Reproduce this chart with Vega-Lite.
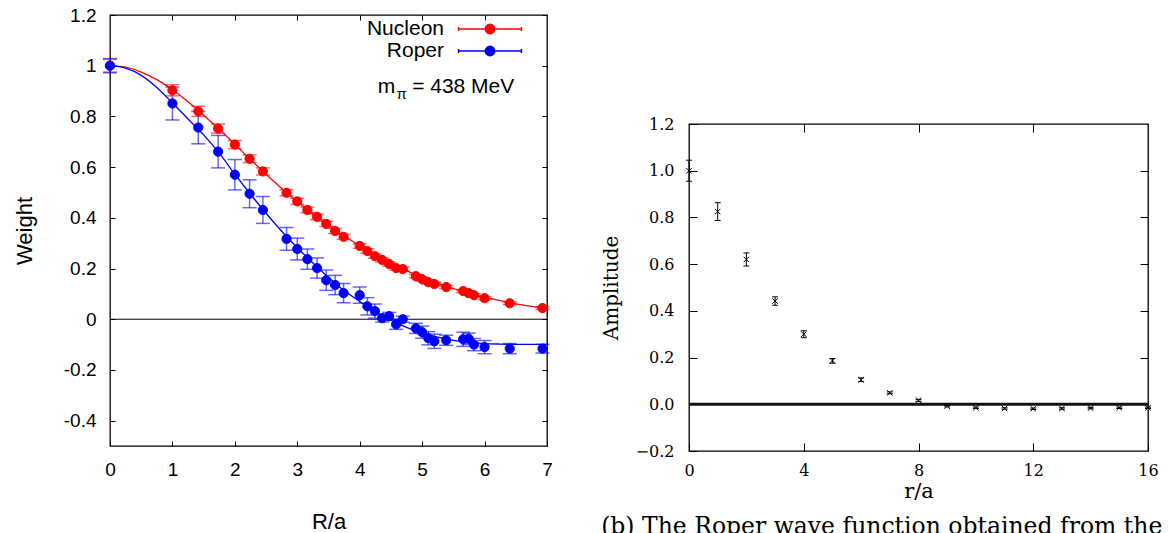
{
  "$schema": "https://vega.github.io/schema/vega-lite/v6.json",
  "background": "white",
  "padding": {"left": 12, "top": 5, "right": 0, "bottom": 0},
  "config": {
    "view": {"stroke": "black", "strokeWidth": 1.3},
    "axis": {"grid": false, "domain": false, "tickColor": "black", "tickWidth": 1, "labelColor": "black", "titleColor": "black", "titleFontWeight": "normal", "labelFlush": false, "labelOverlap": false}
  },
  "datasets": {
    "weights": [
      {"series": "Nucleon", "R": 0, "w": 1.0, "lo": 0.975, "hi": 1.025},
      {"series": "Nucleon", "R": 1, "w": 0.903, "lo": 0.881, "hi": 0.925},
      {"series": "Nucleon", "R": 1.414, "w": 0.82, "lo": 0.8, "hi": 0.84},
      {"series": "Nucleon", "R": 1.732, "w": 0.752, "lo": 0.734, "hi": 0.77},
      {"series": "Nucleon", "R": 2, "w": 0.689, "lo": 0.673, "hi": 0.705},
      {"series": "Nucleon", "R": 2.236, "w": 0.633, "lo": 0.618, "hi": 0.648},
      {"series": "Nucleon", "R": 2.449, "w": 0.583, "lo": 0.569, "hi": 0.597},
      {"series": "Nucleon", "R": 2.828, "w": 0.499, "lo": 0.487, "hi": 0.511},
      {"series": "Nucleon", "R": 3, "w": 0.465, "lo": 0.453, "hi": 0.477},
      {"series": "Nucleon", "R": 3.162, "w": 0.431, "lo": 0.42, "hi": 0.442},
      {"series": "Nucleon", "R": 3.317, "w": 0.404, "lo": 0.393, "hi": 0.415},
      {"series": "Nucleon", "R": 3.464, "w": 0.376, "lo": 0.366, "hi": 0.386},
      {"series": "Nucleon", "R": 3.606, "w": 0.348, "lo": 0.338, "hi": 0.358},
      {"series": "Nucleon", "R": 3.742, "w": 0.325, "lo": 0.315, "hi": 0.335},
      {"series": "Nucleon", "R": 4, "w": 0.289, "lo": 0.28, "hi": 0.298},
      {"series": "Nucleon", "R": 4.123, "w": 0.269, "lo": 0.26, "hi": 0.278},
      {"series": "Nucleon", "R": 4.243, "w": 0.249, "lo": 0.241, "hi": 0.257},
      {"series": "Nucleon", "R": 4.359, "w": 0.234, "lo": 0.226, "hi": 0.242},
      {"series": "Nucleon", "R": 4.472, "w": 0.218, "lo": 0.21, "hi": 0.226},
      {"series": "Nucleon", "R": 4.583, "w": 0.202, "lo": 0.194, "hi": 0.21},
      {"series": "Nucleon", "R": 4.69, "w": 0.198, "lo": 0.19, "hi": 0.206},
      {"series": "Nucleon", "R": 4.899, "w": 0.17, "lo": 0.163, "hi": 0.177},
      {"series": "Nucleon", "R": 5, "w": 0.158, "lo": 0.151, "hi": 0.165},
      {"series": "Nucleon", "R": 5.099, "w": 0.146, "lo": 0.139, "hi": 0.153},
      {"series": "Nucleon", "R": 5.196, "w": 0.139, "lo": 0.132, "hi": 0.146},
      {"series": "Nucleon", "R": 5.385, "w": 0.127, "lo": 0.121, "hi": 0.133},
      {"series": "Nucleon", "R": 5.657, "w": 0.111, "lo": 0.105, "hi": 0.117},
      {"series": "Nucleon", "R": 5.745, "w": 0.103, "lo": 0.097, "hi": 0.109},
      {"series": "Nucleon", "R": 5.831, "w": 0.095, "lo": 0.089, "hi": 0.101},
      {"series": "Nucleon", "R": 6, "w": 0.083, "lo": 0.077, "hi": 0.089},
      {"series": "Nucleon", "R": 6.403, "w": 0.063, "lo": 0.058, "hi": 0.068},
      {"series": "Nucleon", "R": 6.928, "w": 0.044, "lo": 0.039, "hi": 0.049},
      {"series": "Roper", "R": 0, "w": 1.0, "lo": 0.972, "hi": 1.028},
      {"series": "Roper", "R": 1, "w": 0.851, "lo": 0.786, "hi": 0.916},
      {"series": "Roper", "R": 1.414, "w": 0.756, "lo": 0.692, "hi": 0.82},
      {"series": "Roper", "R": 1.732, "w": 0.661, "lo": 0.597, "hi": 0.725},
      {"series": "Roper", "R": 2, "w": 0.57, "lo": 0.51, "hi": 0.63},
      {"series": "Roper", "R": 2.236, "w": 0.495, "lo": 0.44, "hi": 0.55},
      {"series": "Roper", "R": 2.449, "w": 0.431, "lo": 0.378, "hi": 0.484},
      {"series": "Roper", "R": 2.828, "w": 0.317, "lo": 0.272, "hi": 0.362},
      {"series": "Roper", "R": 3, "w": 0.277, "lo": 0.234, "hi": 0.32},
      {"series": "Roper", "R": 3.162, "w": 0.237, "lo": 0.197, "hi": 0.277},
      {"series": "Roper", "R": 3.317, "w": 0.202, "lo": 0.162, "hi": 0.242},
      {"series": "Roper", "R": 3.464, "w": 0.154, "lo": 0.114, "hi": 0.194},
      {"series": "Roper", "R": 3.606, "w": 0.135, "lo": 0.097, "hi": 0.173},
      {"series": "Roper", "R": 3.742, "w": 0.103, "lo": 0.065, "hi": 0.141},
      {"series": "Roper", "R": 4, "w": 0.095, "lo": 0.063, "hi": 0.127},
      {"series": "Roper", "R": 4.123, "w": 0.051, "lo": 0.017, "hi": 0.085},
      {"series": "Roper", "R": 4.243, "w": 0.032, "lo": 0.004, "hi": 0.06},
      {"series": "Roper", "R": 4.359, "w": 0.004, "lo": -0.011, "hi": 0.019},
      {"series": "Roper", "R": 4.472, "w": 0.012, "lo": -0.003, "hi": 0.027},
      {"series": "Roper", "R": 4.583, "w": -0.02, "lo": -0.04, "hi": 0.0},
      {"series": "Roper", "R": 4.69, "w": 0.0, "lo": -0.012, "hi": 0.012},
      {"series": "Roper", "R": 4.899, "w": -0.036, "lo": -0.056, "hi": -0.016},
      {"series": "Roper", "R": 5, "w": -0.051, "lo": -0.075, "hi": -0.027},
      {"series": "Roper", "R": 5.099, "w": -0.075, "lo": -0.101, "hi": -0.049},
      {"series": "Roper", "R": 5.196, "w": -0.087, "lo": -0.115, "hi": -0.059},
      {"series": "Roper", "R": 5.385, "w": -0.083, "lo": -0.103, "hi": -0.063},
      {"series": "Roper", "R": 5.657, "w": -0.079, "lo": -0.107, "hi": -0.051},
      {"series": "Roper", "R": 5.745, "w": -0.077, "lo": -0.099, "hi": -0.055},
      {"series": "Roper", "R": 5.831, "w": -0.1, "lo": -0.124, "hi": -0.076},
      {"series": "Roper", "R": 6, "w": -0.11, "lo": -0.136, "hi": -0.084},
      {"series": "Roper", "R": 6.403, "w": -0.116, "lo": -0.136, "hi": -0.096},
      {"series": "Roper", "R": 6.928, "w": -0.116, "lo": -0.133, "hi": -0.099}
    ],
    "fits": [
      {"series": "Nucleon", "R": 0, "w": 1.0},
      {"series": "Nucleon", "R": 0.25, "w": 0.994},
      {"series": "Nucleon", "R": 0.5, "w": 0.975},
      {"series": "Nucleon", "R": 0.75, "w": 0.945},
      {"series": "Nucleon", "R": 1, "w": 0.905},
      {"series": "Nucleon", "R": 1.25, "w": 0.858},
      {"series": "Nucleon", "R": 1.5, "w": 0.805},
      {"series": "Nucleon", "R": 1.75, "w": 0.749},
      {"series": "Nucleon", "R": 2, "w": 0.69},
      {"series": "Nucleon", "R": 2.25, "w": 0.63},
      {"series": "Nucleon", "R": 2.5, "w": 0.572},
      {"series": "Nucleon", "R": 2.75, "w": 0.516},
      {"series": "Nucleon", "R": 3, "w": 0.464},
      {"series": "Nucleon", "R": 3.25, "w": 0.415},
      {"series": "Nucleon", "R": 3.5, "w": 0.37},
      {"series": "Nucleon", "R": 3.75, "w": 0.328},
      {"series": "Nucleon", "R": 4, "w": 0.29},
      {"series": "Nucleon", "R": 4.25, "w": 0.254},
      {"series": "Nucleon", "R": 4.5, "w": 0.222},
      {"series": "Nucleon", "R": 4.75, "w": 0.192},
      {"series": "Nucleon", "R": 5, "w": 0.165},
      {"series": "Nucleon", "R": 5.25, "w": 0.142},
      {"series": "Nucleon", "R": 5.5, "w": 0.121},
      {"series": "Nucleon", "R": 5.75, "w": 0.103},
      {"series": "Nucleon", "R": 6, "w": 0.087},
      {"series": "Nucleon", "R": 6.25, "w": 0.073},
      {"series": "Nucleon", "R": 6.5, "w": 0.061},
      {"series": "Nucleon", "R": 6.75, "w": 0.051},
      {"series": "Nucleon", "R": 7, "w": 0.042},
      {"series": "Roper", "R": 0, "w": 1.0},
      {"series": "Roper", "R": 0.25, "w": 0.99},
      {"series": "Roper", "R": 0.5, "w": 0.962},
      {"series": "Roper", "R": 0.75, "w": 0.914},
      {"series": "Roper", "R": 1, "w": 0.853},
      {"series": "Roper", "R": 1.25, "w": 0.79},
      {"series": "Roper", "R": 1.5, "w": 0.727},
      {"series": "Roper", "R": 1.75, "w": 0.655},
      {"series": "Roper", "R": 2, "w": 0.572},
      {"series": "Roper", "R": 2.25, "w": 0.493},
      {"series": "Roper", "R": 2.5, "w": 0.418},
      {"series": "Roper", "R": 2.75, "w": 0.347},
      {"series": "Roper", "R": 3, "w": 0.282},
      {"series": "Roper", "R": 3.25, "w": 0.222},
      {"series": "Roper", "R": 3.5, "w": 0.165},
      {"series": "Roper", "R": 3.75, "w": 0.113},
      {"series": "Roper", "R": 4, "w": 0.07},
      {"series": "Roper", "R": 4.25, "w": 0.03},
      {"series": "Roper", "R": 4.5, "w": -0.004},
      {"series": "Roper", "R": 4.75, "w": -0.032},
      {"series": "Roper", "R": 5, "w": -0.054},
      {"series": "Roper", "R": 5.25, "w": -0.071},
      {"series": "Roper", "R": 5.5, "w": -0.083},
      {"series": "Roper", "R": 5.75, "w": -0.091},
      {"series": "Roper", "R": 6, "w": -0.096},
      {"series": "Roper", "R": 6.25, "w": -0.098},
      {"series": "Roper", "R": 6.5, "w": -0.099},
      {"series": "Roper", "R": 7, "w": -0.099}
    ],
    "amplitude": [
      {"r": 0, "amp": 1.0, "lo": 0.955, "hi": 1.045},
      {"r": 1, "amp": 0.825, "lo": 0.787, "hi": 0.863},
      {"r": 2, "amp": 0.62, "lo": 0.592, "hi": 0.648},
      {"r": 3, "amp": 0.442, "lo": 0.424, "hi": 0.46},
      {"r": 4, "amp": 0.3, "lo": 0.285, "hi": 0.315},
      {"r": 5, "amp": 0.186, "lo": 0.176, "hi": 0.196},
      {"r": 6, "amp": 0.105, "lo": 0.097, "hi": 0.113},
      {"r": 7, "amp": 0.049, "lo": 0.045, "hi": 0.053},
      {"r": 8, "amp": 0.017, "lo": 0.013, "hi": 0.021},
      {"r": 9, "amp": -0.008, "lo": -0.011, "hi": -0.005},
      {"r": 10, "amp": -0.015, "lo": -0.018, "hi": -0.012},
      {"r": 11, "amp": -0.018, "lo": -0.021, "hi": -0.015},
      {"r": 12, "amp": -0.019, "lo": -0.022, "hi": -0.016},
      {"r": 13, "amp": -0.018, "lo": -0.021, "hi": -0.015},
      {"r": 14, "amp": -0.016, "lo": -0.019, "hi": -0.013},
      {"r": 15, "amp": -0.015, "lo": -0.018, "hi": -0.012},
      {"r": 16, "amp": -0.015, "lo": -0.018, "hi": -0.012}
    ]
  },
  "spacing": 47,
  "resolve": {"legend": {"fill": "independent", "stroke": "independent"}},
  "hconcat": [
    {
      "width": 437,
      "height": 431,
      "layer": [
        {
          "data": {"name": "fits"},
          "mark": {"type": "line", "interpolate": "monotone", "strokeWidth": 1.3},
          "encoding": {
            "x": {"field": "R", "type": "quantitative", "scale": {"domain": [0, 7], "nice": false, "zero": false},
              "axis": {"orient": "bottom", "title": "R/a", "values": [0, 1, 2, 3, 4, 5, 6, 7], "tickSize": -5, "labelPadding": 19.5, "titlePadding": 32, "labelFont": "Liberation Sans", "labelFontSize": 19, "titleFont": "Liberation Sans", "titleFontSize": 22}},
            "y": {"field": "w", "type": "quantitative", "scale": {"domain": [-0.5, 1.2], "nice": false, "zero": false},
              "axis": {"orient": "left", "title": "Weight", "values": [-0.4, -0.2, 0, 0.2, 0.4, 0.6, 0.8, 1, 1.2], "tickSize": -5, "labelPadding": 19, "titlePadding": 27, "labelFont": "Liberation Sans", "labelFontSize": 19, "titleFont": "Liberation Sans", "titleFontSize": 22, "labelExpr": "(datum.value < 0 ? '-' : '') + format(abs(datum.value), '~g')"}},
            "color": {"field": "series", "type": "nominal", "scale": {"domain": ["Nucleon", "Roper"], "range": ["#ff0000", "#0000ff"]}, "legend": null}
          }
        },
        {
          "data": {"name": "fits"},
          "mark": {"type": "point", "opacity": 0},
          "encoding": {
            "x": {"field": "R", "type": "quantitative", "scale": {"domain": [0, 7], "nice": false, "zero": false},
              "axis": {"orient": "top", "values": [1, 2, 3, 4, 5, 6], "labels": false, "title": null, "tickSize": -5}},
            "y": {"field": "w", "type": "quantitative", "scale": {"domain": [-0.5, 1.2], "nice": false, "zero": false},
              "axis": {"orient": "right", "values": [-0.4, -0.2, 0, 0.2, 0.4, 0.6, 0.8, 1, 1.2], "labels": false, "title": null, "tickSize": -5}}
          }
        },
        {
          "data": {"values": [{}]},
          "mark": {"type": "rule", "color": "black", "strokeWidth": 1},
          "encoding": {
            "y": {"datum": 0, "type": "quantitative", "scale": {"domain": [-0.5, 1.2], "nice": false, "zero": false}, "axis": null}
          }
        },
        {
          "data": {"name": "weights"},
          "mark": {"type": "rule", "strokeWidth": 1.5, "opacity": 0.6},
          "encoding": {
            "x": {"field": "R", "type": "quantitative", "scale": {"domain": [0, 7], "nice": false, "zero": false}, "axis": null},
            "y": {"field": "lo", "type": "quantitative", "scale": {"domain": [-0.5, 1.2], "nice": false, "zero": false}, "axis": null},
            "y2": {"field": "hi"},
            "color": {"field": "series", "type": "nominal", "scale": {"domain": ["Nucleon", "Roper"], "range": ["#ff0000", "#0000ff"]}, "legend": null}
          }
        },
        {
          "data": {"name": "weights"},
          "mark": {"type": "tick", "orient": "horizontal", "size": 14, "thickness": 1.5, "opacity": 0.6},
          "encoding": {
            "x": {"field": "R", "type": "quantitative", "scale": {"domain": [0, 7], "nice": false, "zero": false}, "axis": null},
            "y": {"field": "lo", "type": "quantitative", "scale": {"domain": [-0.5, 1.2], "nice": false, "zero": false}, "axis": null},
            "color": {"field": "series", "type": "nominal", "scale": {"domain": ["Nucleon", "Roper"], "range": ["#ff0000", "#0000ff"]}, "legend": null}
          }
        },
        {
          "data": {"name": "weights"},
          "mark": {"type": "tick", "orient": "horizontal", "size": 14, "thickness": 1.5, "opacity": 0.6},
          "encoding": {
            "x": {"field": "R", "type": "quantitative", "scale": {"domain": [0, 7], "nice": false, "zero": false}, "axis": null},
            "y": {"field": "hi", "type": "quantitative", "scale": {"domain": [-0.5, 1.2], "nice": false, "zero": false}, "axis": null},
            "color": {"field": "series", "type": "nominal", "scale": {"domain": ["Nucleon", "Roper"], "range": ["#ff0000", "#0000ff"]}, "legend": null}
          }
        },
        {
          "data": {"name": "weights"},
          "mark": {"type": "point", "shape": "circle", "filled": true, "size": 85, "strokeWidth": 1, "opacity": 1},
          "encoding": {
            "x": {"field": "R", "type": "quantitative", "scale": {"domain": [0, 7], "nice": false, "zero": false}, "axis": null},
            "y": {"field": "w", "type": "quantitative", "scale": {"domain": [-0.5, 1.2], "nice": false, "zero": false}, "axis": null},
            "fill": {"field": "series", "type": "nominal", "scale": {"domain": ["Nucleon", "Roper"], "range": ["#ff0000", "#0000ff"]},
              "legend": {"title": null, "orient": "none", "legendX": 368, "legendY": 2, "padding": 0, "symbolType": "M-2.86 0H2.86M-2.86 -0.18V0.18M2.86 -0.18V0.18M0.43 0A0.43 0.43 0 1 1 -0.43 0A0.43 0.43 0 1 1 0.43 0Z", "symbolSize": 484, "symbolStrokeWidth": 1.5, "symbolOpacity": 1, "rowPadding": 0, "labelAlign": "right", "labelOffset": -58, "labelFont": "Liberation Sans", "labelFontSize": 21, "labelColor": "black", "labelLimit": 300}},
            "stroke": {"field": "series", "type": "nominal", "scale": {"domain": ["Nucleon", "Roper"], "range": ["#ff0000", "#0000ff"]},
              "legend": {"title": null, "orient": "none", "legendX": 368, "legendY": 2, "padding": 0, "symbolType": "M-2.86 0H2.86M-2.86 -0.18V0.18M2.86 -0.18V0.18M0.43 0A0.43 0.43 0 1 1 -0.43 0A0.43 0.43 0 1 1 0.43 0Z", "symbolSize": 484, "symbolStrokeWidth": 1.5, "symbolOpacity": 1, "rowPadding": 0, "labelAlign": "right", "labelOffset": -58, "labelFont": "Liberation Sans", "labelFontSize": 21, "labelColor": "black", "labelLimit": 300}}
          }
        },
        {
          "data": {"values": [{}]},
          "mark": {"type": "text", "text": "m", "align": "left", "baseline": "alphabetic", "font": "Liberation Sans", "fontSize": 21, "color": "black"},
          "encoding": {
            "x": {"datum": 4.29, "type": "quantitative", "scale": {"domain": [0, 7], "nice": false, "zero": false}, "axis": null},
            "y": {"datum": 0.891, "type": "quantitative", "scale": {"domain": [-0.5, 1.2], "nice": false, "zero": false}, "axis": null}
          }
        },
        {
          "data": {"values": [{}]},
          "mark": {"type": "text", "text": "π", "align": "left", "baseline": "alphabetic", "font": "Liberation Sans", "fontSize": 15, "color": "black"},
          "encoding": {
            "x": {"datum": 4.59, "type": "quantitative", "scale": {"domain": [0, 7], "nice": false, "zero": false}, "axis": null},
            "y": {"datum": 0.869, "type": "quantitative", "scale": {"domain": [-0.5, 1.2], "nice": false, "zero": false}, "axis": null}
          }
        },
        {
          "data": {"values": [{}]},
          "mark": {"type": "text", "text": "= 438 MeV", "align": "left", "baseline": "alphabetic", "font": "Liberation Sans", "fontSize": 21, "color": "black"},
          "encoding": {
            "x": {"datum": 4.84, "type": "quantitative", "scale": {"domain": [0, 7], "nice": false, "zero": false}, "axis": null},
            "y": {"datum": 0.891, "type": "quantitative", "scale": {"domain": [-0.5, 1.2], "nice": false, "zero": false}, "axis": null}
          }
        }
      ],
      "resolve": {"axis": {"x": "independent", "y": "independent"}}
    },
    {
      "spacing": 0,
      "vconcat": [
        {
          "width": 459,
          "height": 100,
          "view": {"stroke": null},
          "data": {"values": []},
          "mark": "point",
          "encoding": {}
        },
        {
          "width": 459,
          "height": 327,
          "title": {"text": "(b) The Roper wave function obtained from the", "orient": "bottom", "anchor": "start", "frame": "bounds", "font": "DejaVu Serif", "fontSize": 23.5, "fontWeight": "normal", "color": "black", "offset": 14},
          "layer": [
            {
              "data": {"name": "amplitude"},
              "mark": {"type": "rule", "color": "black", "strokeWidth": 1},
              "encoding": {
                "x": {"field": "r", "type": "quantitative", "scale": {"domain": [0, 16], "nice": false, "zero": false},
                  "axis": {"orient": "bottom", "title": "r/a", "values": [0, 4, 8, 12, 16], "tickSize": -8, "labelPadding": 19, "titlePadding": 2, "labelFont": "DejaVu Serif", "labelFontSize": 16, "titleFont": "DejaVu Serif", "titleFontSize": 21}},
                "y": {"field": "lo", "type": "quantitative", "scale": {"domain": [-0.2, 1.2], "nice": false, "zero": false},
                  "axis": {"orient": "left", "title": "Amplitude", "values": [-0.2, 0, 0.2, 0.4, 0.6, 0.8, 1, 1.2], "format": ".1f", "tickSize": -8, "labelPadding": 23, "titlePadding": 14, "labelFont": "DejaVu Serif", "labelFontSize": 16, "titleFont": "DejaVu Serif", "titleFontSize": 20}},
                "y2": {"field": "hi"}
              }
            },
            {
              "data": {"name": "amplitude"},
              "mark": {"type": "point", "opacity": 0},
              "encoding": {
                "x": {"field": "r", "type": "quantitative", "scale": {"domain": [0, 16], "nice": false, "zero": false},
                  "axis": {"orient": "top", "values": [4, 8, 12], "labels": false, "title": null, "tickSize": -8}},
                "y": {"field": "amp", "type": "quantitative", "scale": {"domain": [-0.2, 1.2], "nice": false, "zero": false},
                  "axis": {"orient": "right", "values": [0, 0.2, 0.4, 0.6, 0.8, 1], "labels": false, "title": null, "tickSize": -8}}
              }
            },
            {
              "data": {"values": [{}]},
              "mark": {"type": "rule", "color": "#111111", "strokeWidth": 3},
              "encoding": {
                "y": {"datum": 0, "type": "quantitative", "scale": {"domain": [-0.2, 1.2], "nice": false, "zero": false}, "axis": null}
              }
            },
            {
              "data": {"name": "amplitude"},
              "mark": {"type": "tick", "orient": "horizontal", "size": 6, "thickness": 1, "color": "black", "opacity": 1},
              "encoding": {
                "x": {"field": "r", "type": "quantitative", "scale": {"domain": [0, 16], "nice": false, "zero": false}, "axis": null},
                "y": {"field": "lo", "type": "quantitative", "scale": {"domain": [-0.2, 1.2], "nice": false, "zero": false}, "axis": null}
              }
            },
            {
              "data": {"name": "amplitude"},
              "mark": {"type": "tick", "orient": "horizontal", "size": 6, "thickness": 1, "color": "black", "opacity": 1},
              "encoding": {
                "x": {"field": "r", "type": "quantitative", "scale": {"domain": [0, 16], "nice": false, "zero": false}, "axis": null},
                "y": {"field": "hi", "type": "quantitative", "scale": {"domain": [-0.2, 1.2], "nice": false, "zero": false}, "axis": null}
              }
            },
            {
              "data": {"name": "amplitude"},
              "mark": {"type": "point", "shape": "M-1 -1L1 1M-1 1L1 -1", "size": 30, "filled": false, "strokeWidth": 1, "color": "black", "opacity": 1},
              "encoding": {
                "x": {"field": "r", "type": "quantitative", "scale": {"domain": [0, 16], "nice": false, "zero": false}, "axis": null},
                "y": {"field": "amp", "type": "quantitative", "scale": {"domain": [-0.2, 1.2], "nice": false, "zero": false}, "axis": null}
              }
            }
          ],
          "resolve": {"axis": {"x": "independent", "y": "independent"}}
        }
      ]
    }
  ]
}
